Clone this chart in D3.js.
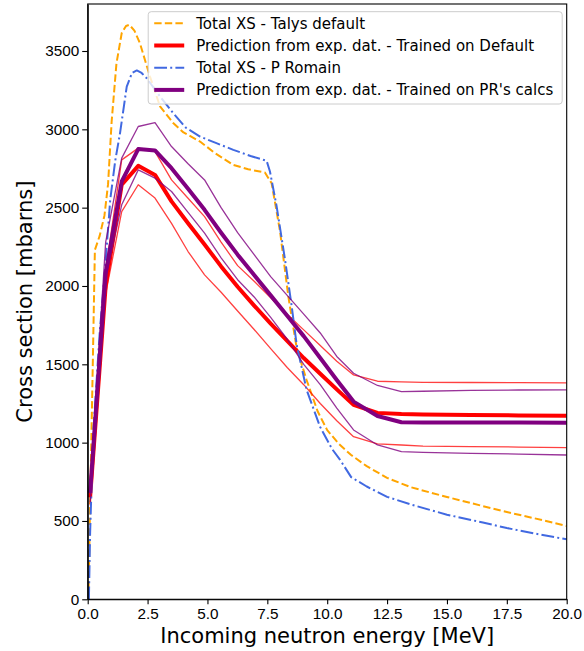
<!DOCTYPE html>
<html>
<head>
<meta charset="utf-8">
<script src="https://cdn.jsdelivr.net/npm/d3@7"></script>
<style>
  body { margin: 0; background: #fff; }
  svg { font-family: "DejaVu Sans", sans-serif; }
  .axis text { font-size: 15.3px; fill: #000; }
  .axis path, .axis line { stroke: #000; stroke-width: 1.1; }
  .axis-title { font-size: 21px; fill: #000; }
  .legend text { font-size: 15px; fill: #000; }
</style>
</head>
<body>
<svg id="chart"></svg>
<script>
// Energy grid of the NN predictions [MeV]
const predEnergy = [0.1, 0.75, 1.42, 2.11, 2.81, 3.5, 4.19, 4.88, 5.57, 6.26, 6.95, 7.64,
  8.33, 9.02, 9.71, 10.4, 11.1, 12.1, 13.1, 14.0, 16.0, 18.0, 20.0];

// Trained on Talys default: mean + two band curves
const predDefault = [650, 2000, 2646, 2767, 2709, 2540, 2400, 2265, 2125, 1995, 1875, 1760,
  1650, 1540, 1440, 1340, 1241, 1190, 1183, 1180, 1176, 1174, 1172];
const predDefaultHi = [700, 2100, 2805, 2880, 2858, 2677, 2560, 2443, 2280, 2130, 2030, 1925,
  1820, 1720, 1620, 1520, 1432, 1392, 1388, 1385, 1384, 1383, 1382];
const predDefaultLo = [600, 1950, 2475, 2646, 2561, 2400, 2220, 2071, 1960, 1840, 1722, 1600,
  1480, 1370, 1250, 1140, 1038, 992, 985, 978, 975, 972, 968];

// Trained on P Romain's calcs
const predPR = [680, 2080, 2667, 2874, 2865, 2752, 2620, 2486, 2340, 2200, 2070, 1940,
  1810, 1680, 1540, 1400, 1262, 1170, 1130, 1128, 1128, 1128, 1127];
const predPRHi = [720, 2280, 2816, 3018, 3043, 2890, 2780, 2677, 2500, 2340, 2200, 2060,
  1940, 1820, 1700, 1550, 1443, 1365, 1326, 1328, 1333, 1336, 1337];
const predPRLo = [620, 2050, 2518, 2741, 2688, 2603, 2470, 2337, 2180, 2040, 1930, 1800,
  1660, 1500, 1370, 1220, 1081, 985, 943, 938, 932, 927, 921];

// Total XS - Talys default
const talysEnergy = [0.03, 0.1, 0.2, 0.3, 0.5, 0.7, 0.85, 1.0, 1.2, 1.42, 1.6, 1.74, 1.95,
  2.18, 2.6, 3.02, 3.57, 4.0, 4.69, 5.3, 6.08, 6.7, 7.4, 7.68, 8.03, 8.38, 8.73, 9.14,
  9.6, 10.0, 10.5, 11.0, 11.65, 12.5, 13.5, 15.0, 16.5, 17.5, 19.0, 20.0];
const talysXS = [0, 600, 1400, 2230, 2320, 2450, 2650, 3050, 3420, 3614, 3660, 3667, 3630,
  3550, 3337, 3146, 3040, 2980, 2922, 2850, 2773, 2745, 2724, 2656, 2350, 1930, 1600, 1400,
  1200, 1080, 990, 921, 850, 775, 715, 653, 595, 557, 505, 468];

// Total XS - P Romain
const romainEnergy = [0.05, 0.1, 0.23, 0.5, 0.72, 0.94, 1.15, 1.35, 1.63, 1.85, 2.05, 2.25,
  2.46, 3.02, 3.57, 4.1, 4.69, 5.4, 6.08, 6.8, 7.47, 7.61, 7.89, 8.24, 8.52, 8.73, 9.14,
  9.7, 10.2, 10.54, 11.0, 11.65, 12.5, 13.5, 15.0, 16.5, 17.5, 19.0, 20.0];
const romainXS = [0, 420, 1060, 1700, 2100, 2550, 2800, 2976, 3273, 3360, 3376, 3360,
  3327, 3210, 3103, 3010, 2954, 2910, 2869, 2830, 2799, 2731, 2507, 2167, 1868, 1620, 1337,
  1102, 960, 890, 780, 720, 654, 605, 540, 490, 455, 410, 383];

const xTicks = [0, 2.5, 5, 7.5, 10, 12.5, 15, 17.5, 20];
const yTicks = [0, 500, 1000, 1500, 2000, 2500, 3000, 3500];

const legendLabels = [
  'Total XS - Talys default',
  'Prediction from exp. dat. - Trained on Default',
  'Total XS - P Romain',
  "Prediction from exp. dat. - Trained on PR's calcs"
];

const zip = (xs, ys) => xs.map((x, i) => ({ x: x, y: ys[i] }));

// line definitions, in drawing order
const series = [
  { values: zip(talysEnergy, talysXS), color: 'orange', width: 2, dash: '7.4,3.2', legend: 0 },
  { values: zip(predEnergy, predDefaultHi), color: 'red', width: 1.3, opacity: 0.75 },
  { values: zip(predEnergy, predDefaultLo), color: 'red', width: 1.3, opacity: 0.75 },
  { values: zip(predEnergy, predDefault), color: 'red', width: 4, legend: 1 },
  { values: zip(romainEnergy, romainXS), color: 'royalblue', width: 2, dash: '12.8,3.2,2,3.2', legend: 2 },
  { values: zip(predEnergy, predPRHi), color: 'purple', width: 1.3, opacity: 0.8 },
  { values: zip(predEnergy, predPRLo), color: 'purple', width: 1.3, opacity: 0.8 },
  { values: zip(predEnergy, predPR), color: 'purple', width: 4, legend: 3 }
];

class XsChart {
  constructor(_config) {
    this.config = {
      parentElement: _config.parentElement,
      containerWidth: _config.containerWidth || 584,
      containerHeight: _config.containerHeight || 651,
      margin: _config.margin || { top: 4, right: 17.3, bottom: 51.7, left: 87.7 }
    };
    this.initVis();
  }

  initVis() {
    let vis = this;
    vis.width = vis.config.containerWidth - vis.config.margin.left - vis.config.margin.right;
    vis.height = vis.config.containerHeight - vis.config.margin.top - vis.config.margin.bottom;

    vis.xScale = d3.scaleLinear().domain([0, 20]).range([0, vis.width]);
    vis.yScale = d3.scaleLinear().domain([0, 3800]).range([vis.height, 0]);

    vis.xAxis = d3.axisBottom(vis.xScale)
        .tickValues(xTicks)
        .tickFormat(d3.format('.1f'))
        .tickSize(5)
        .tickPadding(4)
        .tickSizeOuter(0);
    vis.yAxis = d3.axisLeft(vis.yScale)
        .tickValues(yTicks)
        .tickFormat(d3.format('d'))
        .tickSize(5.5)
        .tickPadding(3)
        .tickSizeOuter(0);

    vis.svg = d3.select(vis.config.parentElement)
        .attr('width', vis.config.containerWidth)
        .attr('height', vis.config.containerHeight);

    vis.svg.append('defs').append('clipPath')
        .attr('id', 'plot-clip')
      .append('rect')
        .attr('width', vis.width)
        .attr('height', vis.height);

    vis.chart = vis.svg.append('g')
        .attr('transform', `translate(${vis.config.margin.left},${vis.config.margin.top})`);

    vis.linesG = vis.chart.append('g').attr('clip-path', 'url(#plot-clip)');

    // axis titles
    vis.svg.append('text')
        .attr('class', 'axis-title')
        .attr('transform', `translate(31.7,${vis.config.margin.top + vis.height / 2}) rotate(-90)`)
        .attr('text-anchor', 'middle')
        .text('Cross section [mbarns]');

    vis.svg.append('text')
        .attr('class', 'axis-title')
        .attr('x', vis.config.margin.left + vis.width / 2)
        .attr('y', 643)
        .attr('text-anchor', 'middle')
        .text('Incoming neutron energy [MeV]');
  }

  renderVis() {
    let vis = this;
    const line = d3.line()
        .x(d => vis.xScale(d.x))
        .y(d => vis.yScale(d.y));

    vis.linesG.selectAll('.xs-line')
        .data(series)
      .join('path')
        .attr('class', 'xs-line')
        .attr('d', d => line(d.values))
        .attr('fill', 'none')
        .attr('stroke', d => d.color)
        .attr('stroke-width', d => d.width)
        .attr('stroke-opacity', d => d.opacity || 1)
        .attr('stroke-dasharray', d => d.dash || null)
        .attr('stroke-linejoin', 'round');

    // axes + frame
    vis.chart.append('g')
        .attr('class', 'axis x-axis')
        .attr('transform', `translate(0,${vis.height})`)
        .call(vis.xAxis);
    vis.chart.append('g')
        .attr('class', 'axis y-axis')
        .call(vis.yAxis);
    vis.chart.append('rect')
        .attr('width', vis.width)
        .attr('height', vis.height)
        .attr('fill', 'none')
        .attr('stroke', '#000')
        .attr('stroke-width', 1.1);

    vis.renderLegend();
  }

  renderLegend() {
    let vis = this;
    const fs = 15;
    const rowGap = 22.2;
    const legendItems = series.filter(d => d.legend !== undefined)
        .sort((a, b) => a.legend - b.legend);

    const lg = vis.chart.append('g').attr('class', 'legend');
    const box = lg.append('rect')
        .attr('rx', 3)
        .attr('fill', '#fff')
        .attr('fill-opacity', 0.8)
        .attr('stroke', '#ccc')
        .attr('stroke-width', 1);

    const rows = lg.selectAll('.legend-row')
        .data(legendItems)
      .join('g')
        .attr('class', 'legend-row');

    rows.append('line')
        .attr('x1', 0).attr('x2', 2 * fs)
        .attr('stroke', d => d.color)
        .attr('stroke-width', d => d.width)
        .attr('stroke-dasharray', d => d.dash || null);

    rows.append('text')
        .attr('x', 2 * fs + 0.8 * fs)
        .attr('dy', '0.35em')
        .text(d => legendLabels[d.legend]);

    let maxW = 0;
    rows.selectAll('text').each(function() {
      maxW = Math.max(maxW, this.getComputedTextLength());
    });
    const boxW = 0.4 * fs + 2 * fs + 0.8 * fs + maxW + 0.6 * fs;
    const boxX = vis.width - 0.3 * fs - boxW;
    box.attr('x', boxX).attr('y', 7.7)
        .attr('width', boxW)
        .attr('height', 92.3);
    rows.attr('transform', (d, i) => `translate(${boxX + 0.4 * fs},${19.3 + i * rowGap})`);
  }
}

const chart = new XsChart({ parentElement: '#chart' });
chart.renderVis();
</script>
</body>
</html>
